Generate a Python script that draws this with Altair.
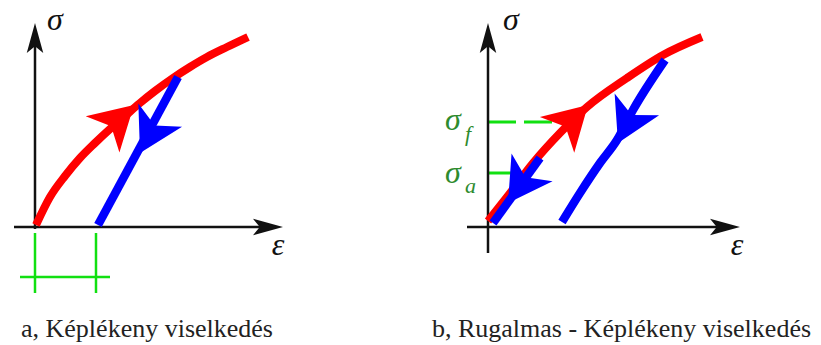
import altair as alt
import pandas as pd

# Schematic stress-strain diagrams, arbitrary units (origin at the axes' crossing).

# ---- panel a: plastic behaviour ----
a_load_eps = [1, 15, 30, 45, 60, 75, 90, 105, 120, 138, 155, 172, 192, 213]
a_load_sig = [2, 30, 51, 69, 84, 98, 111, 124, 136, 149, 160, 170, 180, 190]
a_unload_eps = [143, 63]
a_unload_sig = [150, 2]

# ---- panel b: elastic - plastic behaviour ----
b_load_eps = [0, 19, 45, 72, 99, 139, 175, 214]
b_load_sig = [6, 30, 64, 94, 120, 149, 172, 190]
b_unload1_eps = [52, 5]
b_unload1_sig = [69, 4]
b_unload2_eps = [177, 145, 129, 112, 92, 74]
b_unload2_sig = [167, 117, 87, 64, 34, 5]

sigma_f = 105
sigma_a = 54
sigma_f_eps_end = 85
sigma_a_eps_end = 29

# direction arrows on the paths: tip position and heading (degrees, clockwise from up)
a_red_head = (99, 122, 47)
a_blue_head = (105, 74, 208)
b_red_head = (100, 122, 46)
b_blue_heads = [(20, 24, 214), (130, 84, 206)]

captions = ["a, Képlékeny viselkedés", "b, Rugalmas - Képlékeny viselkedés"]

RED = "#ff0000"
BLUE = "#0000ff"
GREEN = "#11e011"
LABEL_GREEN = "#2e8b2e"
SERIF = "Liberation Serif"

SIG_DOMAIN = [-118, 227]
A_EPS_DOMAIN = [-35, 375]
B_EPS_DOMAIN = [-78, 333]
H = 345

DART = "M0,0 L1.15,2 L0,1.45 L-1.15,2 Z"
AXIS_DART = "M0,0 L0.55,2 L0,1.55 L-0.55,2 Z"


def segs(*paths):
    rows = []
    for k, (es, ss) in enumerate(paths):
        for i, (e, s) in enumerate(zip(es, ss)):
            rows.append({"seg": k, "i": i, "eps": e, "sig": s})
    return pd.DataFrame(rows)


def enc(dom):
    return dict(
        x=alt.X("eps:Q", scale=alt.Scale(domain=dom, nice=False, zero=False), axis=None),
        y=alt.Y("sig:Q", scale=alt.Scale(domain=SIG_DOMAIN, nice=False, zero=False), axis=None),
    )


def lines(df, dom, color, width, dash=None, smooth=False):
    kw = dict(color=color, strokeWidth=width, strokeCap="butt", strokeJoin="round")
    if dash:
        kw["strokeDash"] = dash
    if smooth:
        kw["interpolate"] = "monotone"
    return alt.Chart(df).mark_line(**kw).encode(
        detail="seg:N", order="i:Q", **enc(dom)
    )


def heads(items, dom, color, shape, size):
    df = pd.DataFrame(items, columns=["eps", "sig", "angle"])
    return alt.Chart(df).mark_point(
        shape=shape, filled=True, fill=color, color=color,
        strokeWidth=0, opacity=1, size=size
    ).encode(angle=alt.Angle("angle:Q", scale=None), **enc(dom))


def texts(items, dom, size, color, italic=True, align="center"):
    df = pd.DataFrame(items, columns=["eps", "sig", "t"])
    kw = dict(font=SERIF, fontSize=size, color=color,
              align=align, baseline="alphabetic")
    if italic:
        kw["fontStyle"] = "italic"
    return alt.Chart(df).mark_text(**kw).encode(text="t:N", **enc(dom))


# ---------------- panel a ----------------
da = A_EPS_DOMAIN
panel_a = alt.layer(
    lines(segs(([0, 0], [-6, -66]), ([61, 61], [-6, -66]), ([-15, 75], [-50, -50])), da, GREEN, 2.5),
    lines(segs(([-21, 236], [0, 0]), ([0, 0], [-2, 192])), da, "#111111", 2.5),
    heads([(248, 0, 90), (0, 204, 0)], da, "#111111", AXIS_DART, 900),
    lines(segs((a_load_eps, a_load_sig)), da, RED, 8, smooth=True),
    lines(segs((a_unload_eps, a_unload_sig)), da, BLUE, 8.5),
    heads([a_red_head], da, RED, DART, 1850),
    heads([a_blue_head], da, BLUE, DART, 1850),
    texts([(20, 197, "σ"), (243, -28, "ε")], da, 32, "#111111"),
    texts([(112, -110, captions[0])], da, 26, "#222222", italic=False),
).properties(width=410, height=H)

# ---------------- panel b ----------------
db = B_EPS_DOMAIN
panel_b = alt.layer(
    lines(segs(([0, sigma_f_eps_end], [sigma_f, sigma_f])), db, GREEN, 3, dash=[28, 8]),
    lines(segs(([0, sigma_a_eps_end], [sigma_a, sigma_a])), db, GREEN, 3),
    lines(segs(([-21, 240], [0, 0]), ([0, 0], [-26, 192])), db, "#111111", 2.5),
    heads([(252, 0, 90), (0, 204, 0)], db, "#111111", AXIS_DART, 900),
    lines(segs((b_load_eps, b_load_sig)), db, RED, 8, smooth=True),
    lines(segs((b_unload1_eps, b_unload1_sig)), db, BLUE, 8.5),
    lines(segs((b_unload2_eps, b_unload2_sig)), db, BLUE, 8.5, smooth=True),
    heads([b_red_head], db, RED, DART, 1850),
    heads(b_blue_heads, db, BLUE, DART, 1850),
    texts([(23, 197, "σ"), (249, -28, "ε")], db, 32, "#111111"),
    texts([(-43, 97, "σ"), (-43, 44, "σ")], db, 32, LABEL_GREEN, align="left"),
    texts([(-23, 86, "f"), (-23, 34, "a")], db, 22, LABEL_GREEN, align="left"),
    texts([(133.5, -110, captions[1])], db, 26, "#222222", italic=False),
).properties(width=411, height=H)

chart = alt.hconcat(panel_a, panel_b, spacing=0).properties(
    padding=0, background="white"
).configure_view(strokeWidth=0)

chart.save("out.html", embed_options={"renderer": "svg", "actions": False})
